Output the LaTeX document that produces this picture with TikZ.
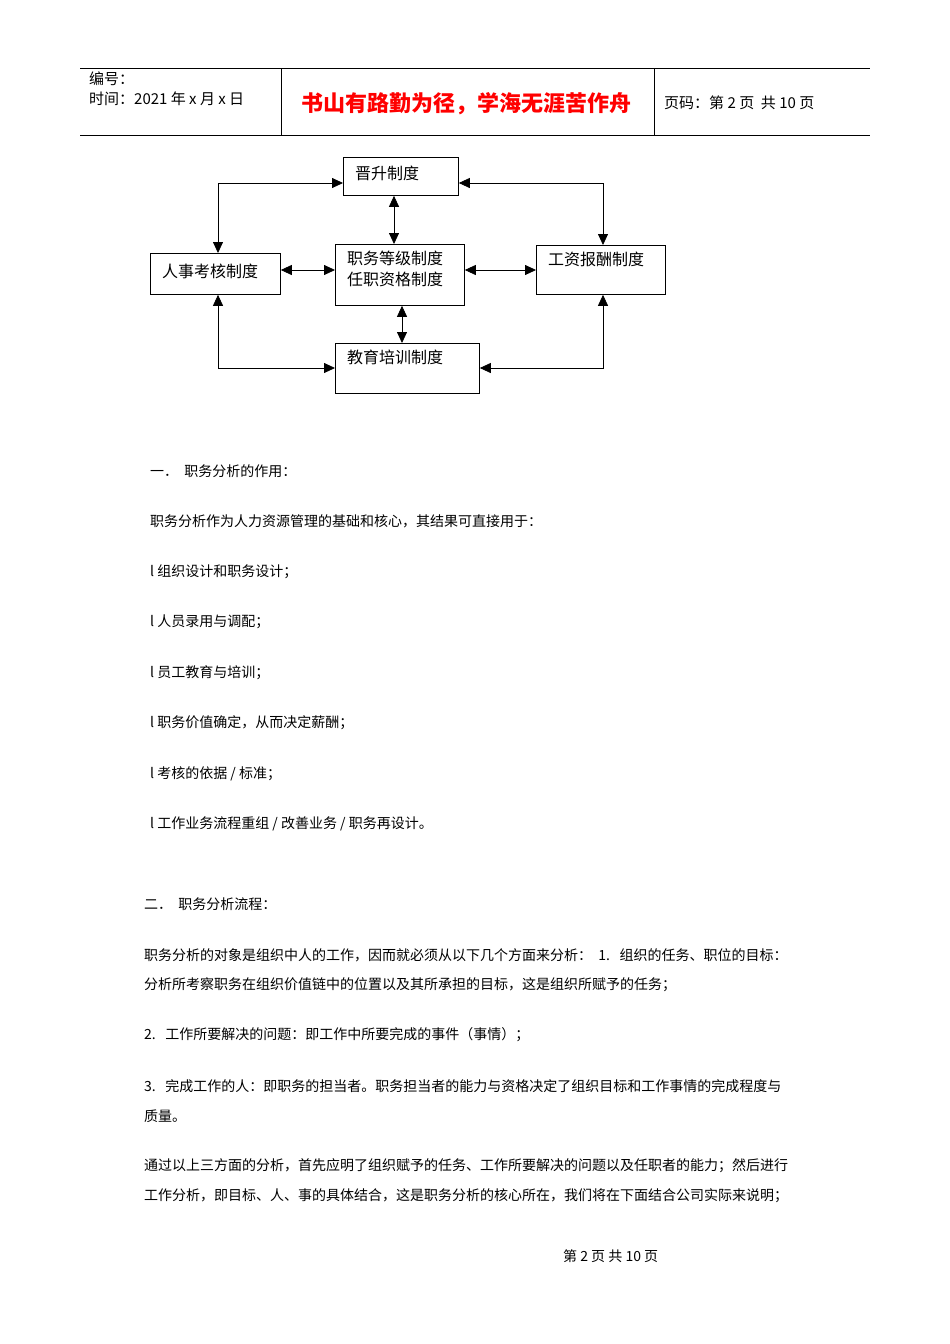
\documentclass[tikz,border=0pt]{standalone}
\usepackage{fontspec}
\setmainfont{Noto Sans CJK SC}
\usetikzlibrary{arrows.meta}
\begin{document}
\begin{tikzpicture}[x=1pt,y=-1pt,
  box/.style={draw,thick,anchor=north west,inner sep=0pt},
  lbl/.style={anchor=north west,inner sep=0pt,font=\fontsize{16}{18}\selectfont},
  con/.style={thick,{Triangle[length=11pt,width=10pt]}-{Triangle[length=11pt,width=10pt]}},
  txt/.style={anchor=west,inner sep=0pt,font=\fontsize{14}{16}\selectfont}]
\useasboundingbox (0,0) rectangle (950,1344);
% header
\draw[semithick] (80,68) -- (870,68);
\draw[semithick] (80,135) -- (870,135);
\draw (281,68) -- (281,135);
\draw (654,68) -- (654,135);
\node[txt,font=\fontsize{15}{17}\selectfont] (h1) at (89,79) {编号：};
\node[txt,font=\fontsize{15}{17}\selectfont] (h2) at (89,99) {时间：2021 年 x 月 x 日};
\node[txt,font=\fontsize{22}{24}\selectfont\bfseries,text=red] (h3) at (301,104) {书山有路勤为径，学海无涯苦作舟};
\node[txt,font=\fontsize{15}{17}\selectfont] (h4) at (664,103) {页码：第 2 页\ \ 共 10 页};
% boxes
\node[box,minimum width=115,minimum height=38] (js) at (343,157) {};
\node[lbl] at (355,166) {晋升制度};
\node[box,minimum width=130,minimum height=41] (rs) at (150,253) {};
\node[lbl] at (162,264) {人事考核制度};
\node[box,minimum width=129,minimum height=61] (zw) at (335,244) {};
\node[lbl,align=left] at (347,251) {职务等级制度\\[3pt]任职资格制度};
\node[box,minimum width=129,minimum height=49] (gz) at (536,245) {};
\node[lbl] at (548,252) {工资报酬制度};
\node[box,minimum width=144,minimum height=50] (jy) at (335,343) {};
\node[lbl] at (347,350) {教育培训制度};
% connectors
\draw[con] (rs.north west -| 218,0) |- (js.west |- 0,183);
\draw[con] (gz.north west -| 603,0) |- (js.east |- 0,183);
\draw[con] (js.south -| 394,0) -- (zw.north -| 394,0);
\draw[con] (rs.east |- 0,270) -- (zw.west |- 0,270);
\draw[con] (zw.east |- 0,270) -- (gz.west |- 0,270);
\draw[con] (zw.south -| 402,0) -- (jy.north -| 402,0);
\draw[con] (rs.south west -| 218,0) |- (jy.west |- 0,368);
\draw[con] (gz.south west -| 603,0) |- (jy.east |- 0,368);
% body text
\node[txt] (t1) at (150,471) {一．\ \ 职务分析的作用：};
\node[txt] (t2) at (150,521) {职务分析作为人力资源管理的基础和核心，其结果可直接用于：};
\node[txt] (t3) at (150,572) {l 组织设计和职务设计；};
\node[txt] (t4) at (150,622) {l 人员录用与调配；};
\node[txt] (t5) at (150,673) {l 员工教育与培训；};
\node[txt] (t6) at (150,723) {l 职务价值确定，从而决定薪酬；};
\node[txt] (t7) at (150,774) {l 考核的依据 / 标准；};
\node[txt] (t8) at (150,824) {l 工作业务流程重组 / 改善业务 / 职务再设计。};
\node[txt] (t9) at (144,904) {二．\ \ 职务分析流程：};
\node[txt] (t10) at (144,955) {职务分析的对象是组织中人的工作，因而就必须从以下几个方面来分析：\ \ 1.\ \ \ 组织的任务、职位的目标：};
\node[txt] (t11) at (144,985) {分析所考察职务在组织价值链中的位置以及其所承担的目标，这是组织所赋予的任务；};
\node[txt] (t12) at (144,1035) {2.\ \ \ 工作所要解决的问题：即工作中所要完成的事件（事情）；};
\node[txt] (t13) at (144,1086) {3.\ \ \ 完成工作的人：即职务的担当者。职务担当者的能力与资格决定了组织目标和工作事情的完成程度与};
\node[txt] (t14) at (144,1116) {质量。};
\node[txt] (t15) at (144,1166) {通过以上三方面的分析，首先应明了组织赋予的任务、工作所要解决的问题以及任职者的能力；然后进行};
\node[txt] (t16) at (144,1196) {工作分析，即目标、人、事的具体结合，这是职务分析的核心所在，我们将在下面结合公司实际来说明；};
\node[txt] (t17) at (563,1256) {第 2 页 共 10 页};
\end{tikzpicture}
\end{document}
